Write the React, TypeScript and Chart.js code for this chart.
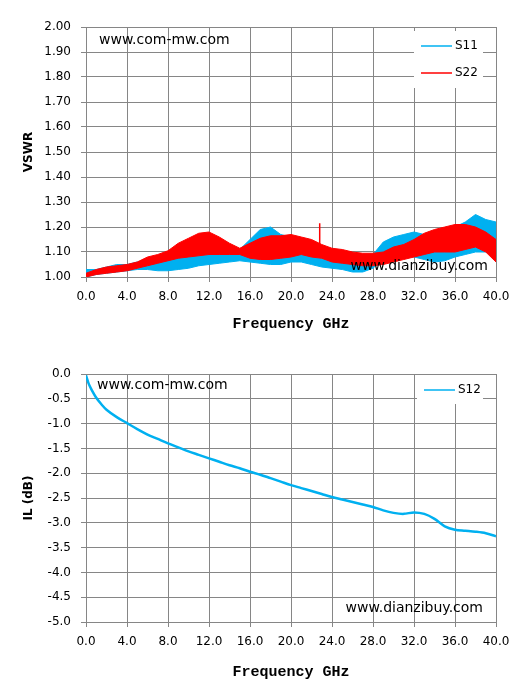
import { useEffect, useRef } from 'react'
import { Chart, registerables } from 'chart.js'
import type { ChartConfiguration, Plugin } from 'chart.js'

Chart.register(...registerables)

const FONT = 'DejaVu Sans'
const GRID = '#868686'
const BLUE = '#00b0f0'
const RED = '#ff0000'

// VSWR chart: envelopes of the noisy S11 / S22 traces, read every 1 GHz
const vswrFreq = [0, 1, 2, 3, 4, 5, 6, 7, 8, 9, 10, 11, 12, 13, 14, 15, 16, 17, 18, 19, 20,
  21, 22, 23, 24, 25, 26, 27, 28, 29, 30, 31, 32, 33, 34, 35, 36, 37, 38, 39, 40]
const s11Upper = [1.03, 1.03, 1.04, 1.05, 1.05, 1.06, 1.07, 1.075, 1.08, 1.08, 1.085, 1.09, 1.09, 1.10, 1.105, 1.11, 1.15, 1.19, 1.20, 1.17, 1.16,
  1.14, 1.12, 1.10, 1.09, 1.085, 1.08, 1.08, 1.09, 1.14, 1.16, 1.17, 1.18, 1.17, 1.17, 1.18, 1.20, 1.22, 1.25, 1.23, 1.22]
const s11Lower = [1.00, 1.01, 1.015, 1.02, 1.025, 1.03, 1.03, 1.025, 1.025, 1.03, 1.035, 1.045, 1.05, 1.055, 1.06, 1.065, 1.06, 1.055, 1.05, 1.05, 1.06,
  1.06, 1.05, 1.04, 1.035, 1.03, 1.02, 1.02, 1.035, 1.075, 1.085, 1.09, 1.08, 1.07, 1.06, 1.065, 1.08, 1.09, 1.10, 1.10, 1.08]
const s22Upper = [1.015, 1.03, 1.04, 1.045, 1.05, 1.06, 1.08, 1.09, 1.105, 1.135, 1.155, 1.175, 1.18, 1.16, 1.135, 1.115, 1.135, 1.155, 1.165, 1.165, 1.17,
  1.16, 1.15, 1.13, 1.115, 1.11, 1.10, 1.095, 1.095, 1.10, 1.12, 1.13, 1.15, 1.175, 1.19, 1.20, 1.21, 1.21, 1.20, 1.18, 1.15]
const s22Lower = [1.00, 1.01, 1.015, 1.02, 1.025, 1.035, 1.045, 1.055, 1.065, 1.075, 1.08, 1.085, 1.09, 1.09, 1.09, 1.09, 1.075, 1.07, 1.07, 1.075, 1.08,
  1.09, 1.08, 1.075, 1.06, 1.055, 1.05, 1.045, 1.045, 1.05, 1.06, 1.07, 1.08, 1.09, 1.10, 1.10, 1.10, 1.11, 1.12, 1.10, 1.06]
// single spike on S22 near 22.8 GHz
const s22SpikeFreq = [22.8, 22.8]
const s22SpikeVswr = [1.09, 1.215]

// insertion loss chart
const ilFreq = [0, 0.25, 0.5, 1, 1.5, 2, 3, 4, 5, 6, 7, 8, 9, 10, 11, 12, 13, 14, 15, 16, 17, 18, 19, 20,
  21, 22, 23, 24, 25, 26, 27, 28, 29, 30, 31, 32, 33, 34, 35, 36, 37, 38, 39, 40]
const s12 = [-0.03, -0.19, -0.30, -0.48, -0.61, -0.72, -0.87, -0.99, -1.11, -1.22, -1.31, -1.40, -1.48, -1.56, -1.63, -1.70, -1.77, -1.84, -1.90, -1.97, -2.03, -2.10, -2.17, -2.24,
  -2.30, -2.36, -2.42, -2.48, -2.53, -2.58, -2.63, -2.68, -2.75, -2.80, -2.82, -2.79, -2.82, -2.92, -3.07, -3.14, -3.16, -3.18, -3.21, -3.27]

const pts = (xs: number[], ys: number[]) => xs.map((x, i) => ({ x, y: ys[i] }))

type Note = { text: string; dx: number; dy: number; from: 'tl' | 'br' }
type Box = { dx: number; dy: number; w: number; h: number; items: { label: string; color: string }[] }

// watermark texts + legend box drawn inside the plot area
const overlay: Plugin = {
  id: 'overlay',
  afterDatasetsDraw(chart, _a, opts: any) {
    const { ctx, chartArea: a } = chart
    ctx.save()
    ctx.font = `14px "${FONT}"`
    ctx.fillStyle = '#000'
    ctx.textBaseline = 'middle'
    for (const n of opts.notes as Note[]) {
      if (n.from === 'tl') { ctx.textAlign = 'left'; ctx.fillText(n.text, a.left + n.dx, a.top + n.dy) }
      else { ctx.textAlign = 'right'; ctx.fillText(n.text, a.right - n.dx, a.bottom - n.dy) }
    }
    const b = opts.legend as Box
    const x0 = a.right - b.dx, y0 = a.top + b.dy
    ctx.fillStyle = '#fff'
    ctx.fillRect(x0, y0, b.w, b.h)
    ctx.font = `12px "${FONT}"`
    ctx.textAlign = 'left'
    b.items.forEach((it, i) => {
      const y = y0 + 15 + i * 27
      ctx.strokeStyle = it.color
      ctx.lineWidth = 1.5
      ctx.beginPath(); ctx.moveTo(x0 + 7, y); ctx.lineTo(x0 + 38, y); ctx.stroke()
      ctx.fillStyle = '#000'
      ctx.fillText(it.label, x0 + 41, y)
    })
    ctx.restore()
  },
}

function axes(yMin: number, yMax: number, yStep: number, yDigits: number, yTitle: string, xHeight: number, xTitlePad: number) {
  return {
    x: {
      type: 'linear', min: 0, max: 40,
      afterFit: (s: any) => { s.height = xHeight },
      border: { color: GRID },
      grid: { color: GRID, lineWidth: 1, tickLength: 5 },
      ticks: { stepSize: 4, padding: 8, color: '#000', font: { family: FONT, size: 12 }, callback: (v: any) => Number(v).toFixed(1) },
      title: { display: true, text: 'Frequency GHz', color: '#000', font: { family: 'Liberation Mono', size: 15, weight: 'bold' }, padding: { top: 0, bottom: xTitlePad } },
    },
    y: {
      type: 'linear', min: yMin, max: yMax,
      afterFit: (s: any) => { s.width = 86 },
      border: { color: GRID },
      grid: { color: GRID, lineWidth: 1, tickLength: 5 },
      ticks: { stepSize: yStep, padding: 10, color: '#000', font: { family: FONT, size: 12 }, callback: (v: any) => Number(v).toFixed(yDigits) },
      title: { display: true, text: yTitle, color: '#000', font: { family: FONT, size: 12, weight: 'bold' }, padding: { top: 22, bottom: 0 } },
    },
  }
}

const band = (data: any, color: string, fill: any) => ({
  data, borderColor: color, backgroundColor: color, borderWidth: 1, pointRadius: 0, tension: 0, fill,
})

function vswrConfig(): ChartConfiguration {
  return {
    type: 'line',
    data: {
      datasets: [
        { label: 'S22', ...band(pts(vswrFreq, s22Upper), RED, '+1') },
        { label: 'S22 low', ...band(pts(vswrFreq, s22Lower), RED, false) },
        { label: 'S22 spike', ...band(pts(s22SpikeFreq, s22SpikeVswr), RED, false), borderWidth: 1.5 },
        { label: 'S11', ...band(pts(vswrFreq, s11Upper), BLUE, '+1') },
        { label: 'S11 low', ...band(pts(vswrFreq, s11Lower), BLUE, false) },
      ],
    },
    options: {
      animation: false, responsive: false,
      layout: { padding: { top: 27, right: 25, left: 0, bottom: 0 } },
      scales: axes(1, 2, 0.1, 2, 'VSWR', 66, 10) as any,
      plugins: {
        legend: { display: false }, tooltip: { enabled: false },
        overlay: {
          notes: [
            { text: 'www.com-mw.com', dx: 13, dy: 13, from: 'tl' },
            { text: 'www.dianzibuy.com', dx: 8, dy: 11, from: 'br' },
          ],
          legend: { dx: 82, dy: 4, w: 69, h: 57, items: [{ label: 'S11', color: BLUE }, { label: 'S22', color: RED }] },
        },
      } as any,
    },
    plugins: [overlay],
  }
}

function ilConfig(): ChartConfiguration {
  return {
    type: 'line',
    data: {
      datasets: [
        { label: 'S12', data: pts(ilFreq, s12), borderColor: BLUE, borderWidth: 2.5, pointRadius: 0, tension: 0.3, fill: false },
      ],
    },
    options: {
      animation: false, responsive: false,
      layout: { padding: { top: 31, right: 25, left: 0, bottom: 0 } },
      scales: axes(-5, 0, 0.5, 1, 'IL (dB)', 65, 6) as any,
      plugins: {
        legend: { display: false }, tooltip: { enabled: false },
        overlay: {
          notes: [
            { text: 'www.com-mw.com', dx: 11, dy: 11, from: 'tl' },
            { text: 'www.dianzibuy.com', dx: 13, dy: 14, from: 'br' },
          ],
          legend: { dx: 79, dy: 1, w: 66, h: 29, items: [{ label: 'S12', color: BLUE }] },
        },
      } as any,
    },
    plugins: [overlay],
  }
}

function ChartBox({ make, width, height }: { make: () => ChartConfiguration; width: number; height: number }) {
  const ref = useRef<HTMLCanvasElement>(null)
  useEffect(() => {
    if (!ref.current) return
    const chart = new Chart(ref.current, make())
    return () => chart.destroy()
  }, [make])
  return <canvas ref={ref} width={width} height={height} style={{ display: 'block', width, height }} />
}

export default function App() {
  return (
    <div style={{ position: 'absolute', left: 0, top: 0, width: 521, height: 687, background: '#fff' }}>
      <ChartBox make={vswrConfig} width={521} height={343} />
      <ChartBox make={ilConfig} width={521} height={344} />
    </div>
  )
}
